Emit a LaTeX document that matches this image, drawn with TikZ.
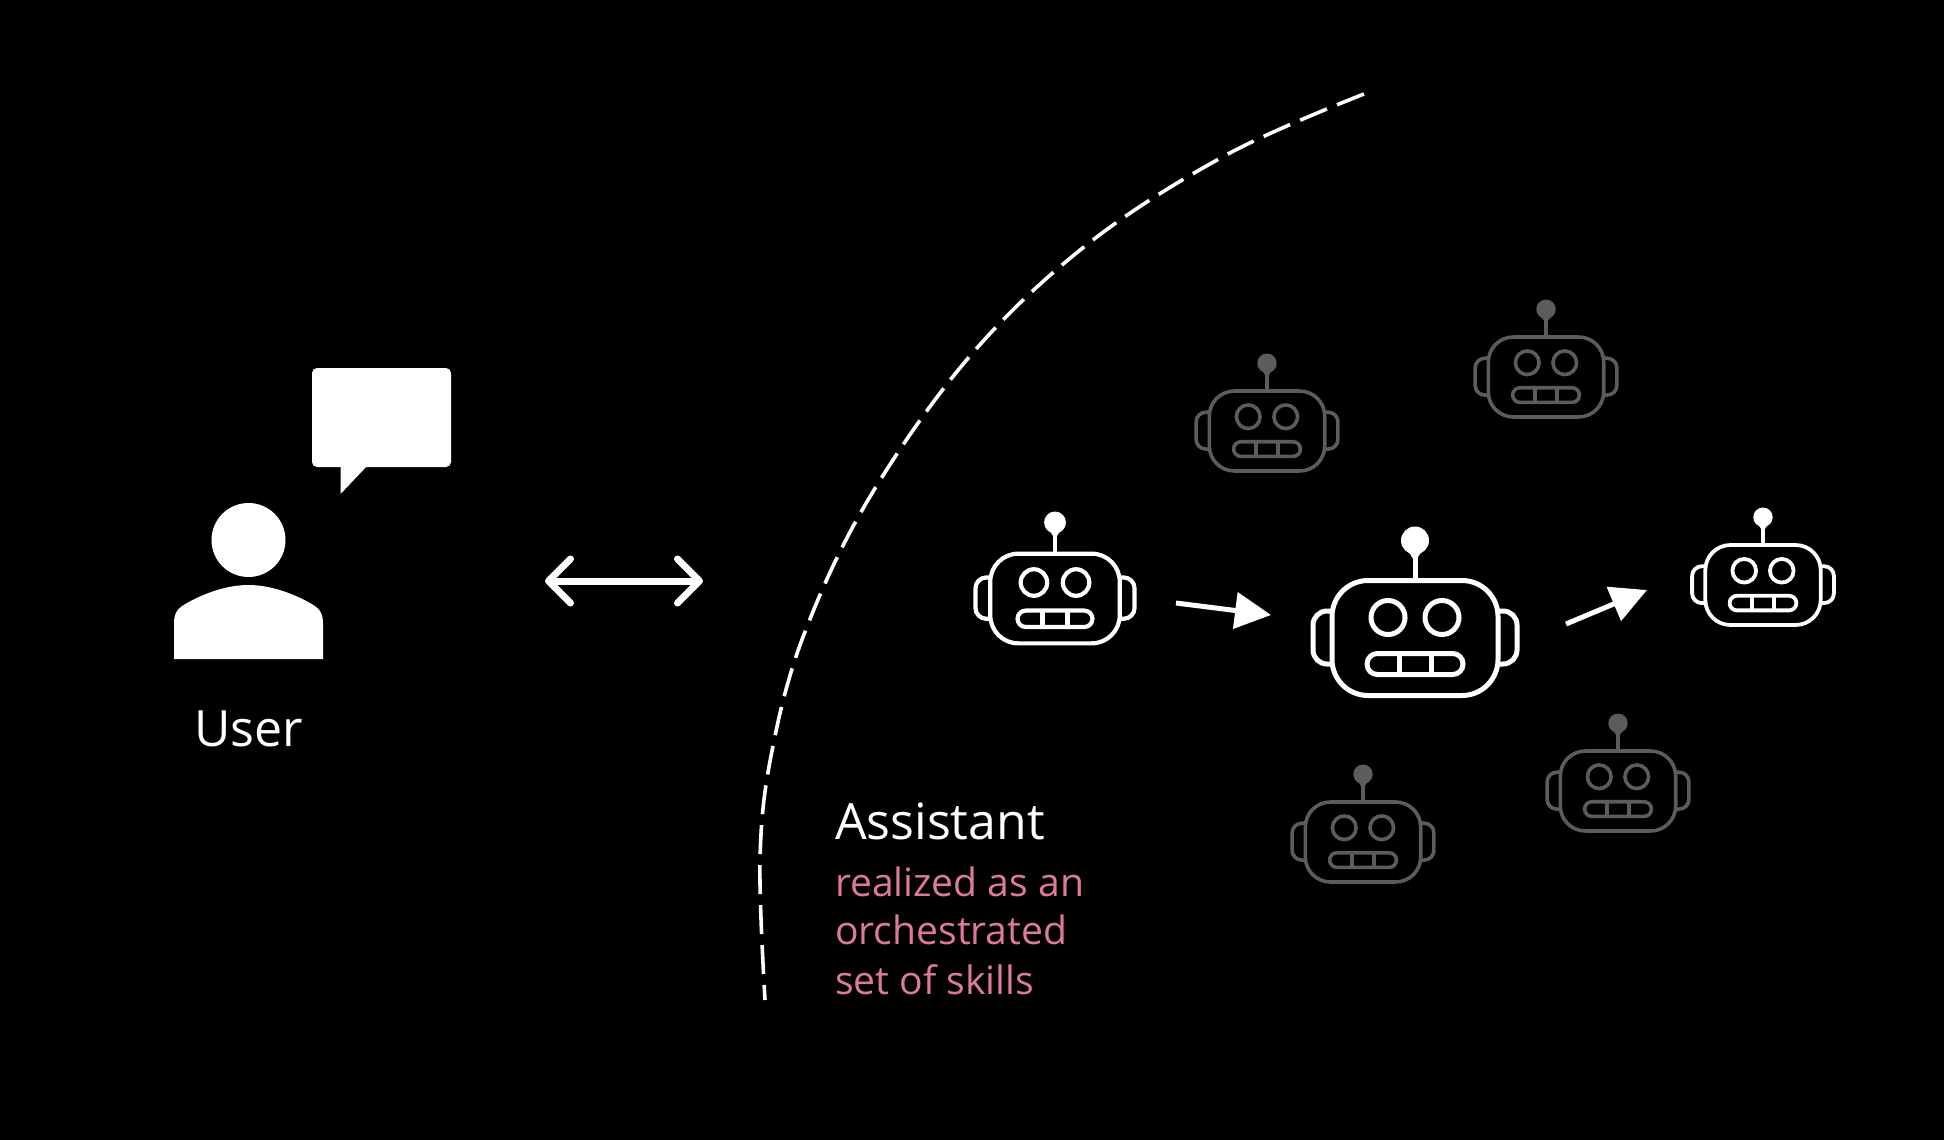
\documentclass[tikz,border=0pt]{standalone}
\usepackage{fontspec}
\setmainfont{Open Sans}
\usetikzlibrary{arrows.meta}
\definecolor{pinktxt}{HTML}{DC7A9E}
\definecolor{dimbot}{HTML}{5C5C5C}
\tikzset{
  solidw/.style={fill=white,draw=none},
  flow/.style={draw=white,line width=5pt,-{Triangle[length=36pt,width=36pt]}},
  both/.style={draw=white,line width=7pt,{Straight Barb[length=22pt,width=44pt,round]}-{Straight Barb[length=22pt,width=44pt,round]}},
  label/.style={anchor=base west,inner sep=0pt,outer sep=0pt},
  boundary/.style={draw=white,line width=3.6pt,dash pattern=on 29pt off 11pt}
}
% name, cx, cy, scale, colour, line width
\newcommand{\botfig}[6]{%
  \coordinate (#1) at (#2,#3);
  \begin{scope}[shift={(#1)},scale=#4,draw=#5,line width=#6pt,line join=round]
    \draw[rounded corners={#4*36pt}] (-83,-57.5) rectangle (83,57.5);
    \draw[rounded corners={#4*14pt}] (-83,-27) -- (-102,-27) -- (-102,26) -- (-83,26);
    \draw[rounded corners={#4*14pt}] (83,-27) -- (102,-27) -- (102,26) -- (83,26);
    \draw (-27,-20.5) circle[radius=17];
    \draw (27,-20.5) circle[radius=17];
    \draw[rounded corners={#4*10.4pt}] (-48,15.5) rectangle (48,36.5);
    \draw (-16,15.5) -- (-16,36.5);
    \draw (16,15.5) -- (16,36.5);
    \draw (0,-57.5) -- (0,-90);
    \fill[#5] (0,-97.5) circle[radius=14];
    \fill[#5] (-6,-86) -- (-2.5,-80) -- (2.5,-80) -- (6,-86) -- cycle;
  \end{scope}}
\begin{document}
\begin{tikzpicture}[x=1pt,y=-1pt]
\fill[black] (0,0) rectangle (1944,1140);
\useasboundingbox (0,0) rectangle (1944,1140);

% user
\fill[solidw] (248.5,540) ellipse[x radius=37,y radius=37];
\fill[solidw] (174,659) -- (174,624) .. controls (174,612) and (178,608) .. (187,603)
  .. controls (203,594) and (226,585) .. (248.5,585)
  .. controls (271,585) and (294,594) .. (310,603)
  .. controls (319,608) and (323,612) .. (323,624) -- (323,659) -- cycle;
\fill[solidw,rounded corners=5pt] (312,368) rectangle (451,467);
\fill[solidw] (340.5,465) -- (340.5,494) -- (368,465) -- cycle;
\node[label,text=white,font=\fontsize{50}{60}\selectfont] (userlbl) at (194,746) {User};

% link
\coordinate (linkl) at (545,581);
\coordinate (linkr) at (703,581);
\draw[both] (linkl) -- (linkr);

% boundary
\draw[boundary] plot[smooth,tension=0.6] coordinates {(1364,94) (1228,154) (1089,243) (970,356) (868,500) (803,637) (771,756) (760,860) (765,1000)};

% labels
\node[label,text=white,font=\fontsize{50}{60}\selectfont] (asst) at (835,839.5) {Assistant};
\node[label,text=pinktxt,font=\fontsize{39.1}{48}\selectfont] (l1) at (835,896) {realized as an};
\node[label,text=pinktxt,font=\fontsize{39.1}{48}\selectfont] (l2) at (835,944) {orchestrated};
\node[label,text=pinktxt,font=\fontsize{39.1}{48}\selectfont] (l3) at (835,994) {set of skills};

% robots
\botfig{g1}{1267}{431}{0.695}{dimbot}{3.6}
\botfig{g2}{1546}{377}{0.695}{dimbot}{3.6}
\botfig{g3}{1363}{842}{0.695}{dimbot}{3.6}
\botfig{g4}{1618}{791}{0.695}{dimbot}{3.6}
\botfig{b1}{1055}{598.5}{0.78}{white}{4.2}
\botfig{b2}{1415}{638}{1}{white}{5}
\botfig{b3}{1763}{585}{0.695}{white}{3.8}

% flow arrows
\coordinate (a1s) at (1176,603);
\coordinate (a1e) at (1271,615);
\coordinate (a2s) at (1566,624);
\coordinate (a2e) at (1647,590);
\draw[flow] (a1s) -- (a1e);
\draw[flow] (a2s) -- (a2e);
\end{tikzpicture}
\end{document}
